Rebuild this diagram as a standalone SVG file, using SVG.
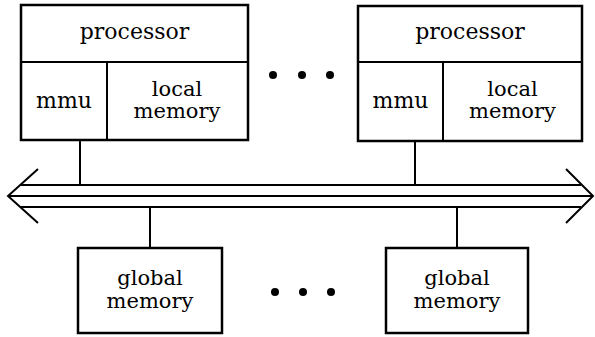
<svg xmlns="http://www.w3.org/2000/svg" width="595" height="337" viewBox="0 0 595 337">
<style>
.box{fill:#fff;stroke:#000;stroke-width:2.5}
.ln{fill:none;stroke:#000;stroke-width:2}
text{font-family:"DejaVu Serif","Liberation Serif",serif;font-size:22px;fill:#000;text-anchor:middle}
text.two{font-size:21px}
.dot{fill:#000}
</style>
<rect width="595" height="337" fill="#fff"/>
<g id="connectors">
<line class="ln" x1="80" y1="140" x2="80" y2="185"/>
<line class="ln" x1="415" y1="140" x2="415" y2="185"/>
<line class="ln" x1="150" y1="207" x2="150" y2="248"/>
<line class="ln" x1="457" y1="207" x2="457" y2="248"/>
</g>
<g id="bus">
<line class="ln" x1="20" y1="185" x2="581" y2="185"/>
<line class="ln" x1="9" y1="196" x2="592" y2="196" stroke-width="2.5"/>
<line class="ln" x1="20" y1="207" x2="581" y2="207"/>
<polyline class="ln" points="38,169 8,196 38,223"/>
<polyline class="ln" points="566,169 593,196 566,223"/>
</g>
<g id="node-left">
<rect class="box" x="21" y="5" width="227" height="135"/>
<line class="ln" x1="21" y1="62" x2="248" y2="62" stroke-width="2.5"/>
<line class="ln" x1="107" y1="62" x2="107" y2="140" stroke-width="2.5"/>
<text x="134.5" y="39">processor</text>
<text x="64" y="108">mmu</text>
<text class="two" x="177" y="96">local</text>
<text class="two" x="177" y="118">memory</text>
</g>
<g id="node-right">
<rect class="box" x="358" y="6" width="224" height="135"/>
<line class="ln" x1="358" y1="62" x2="582" y2="62" stroke-width="2.5"/>
<line class="ln" x1="443" y1="62" x2="443" y2="141" stroke-width="2.5"/>
<text x="470" y="39">processor</text>
<text x="400.5" y="108">mmu</text>
<text class="two" x="512.5" y="96">local</text>
<text class="two" x="512.5" y="118">memory</text>
</g>
<g id="global-left">
<rect class="box" x="78" y="248" width="144" height="85"/>
<text class="two" x="150" y="285">global</text>
<text class="two" x="150" y="308">memory</text>
</g>
<g id="global-right">
<rect class="box" x="386" y="248" width="142" height="85"/>
<text class="two" x="457" y="285">global</text>
<text class="two" x="457" y="308">memory</text>
</g>
<g id="dots-top">
<circle class="dot" cx="273" cy="75" r="4"/>
<circle class="dot" cx="302" cy="75" r="4"/>
<circle class="dot" cx="330" cy="75" r="4"/>
</g>
<g id="dots-bottom">
<circle class="dot" cx="275" cy="292" r="4"/>
<circle class="dot" cx="303" cy="292" r="4"/>
<circle class="dot" cx="331" cy="292" r="4"/>
</g>
</svg>
